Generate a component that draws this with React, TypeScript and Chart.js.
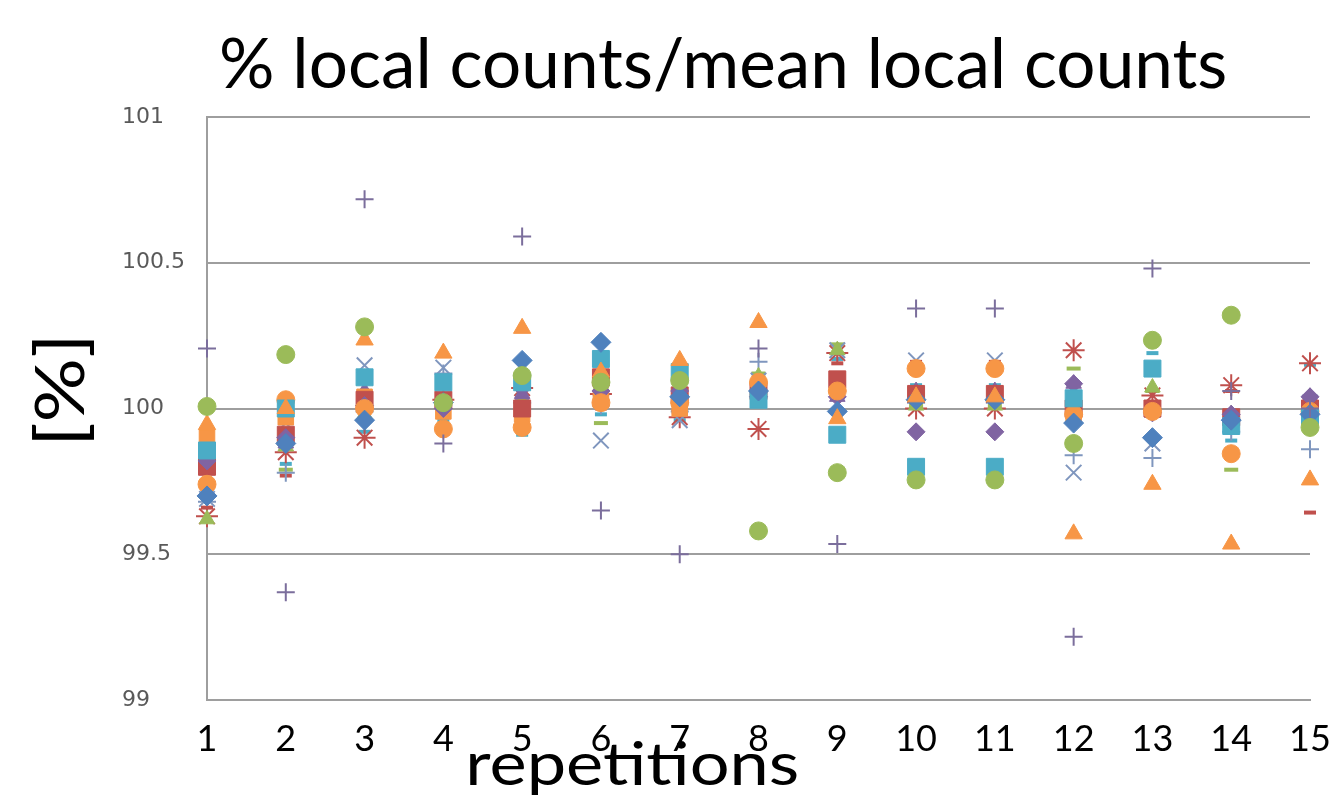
import React, { useEffect, useRef } from "react";
import { Chart, registerables } from "chart.js";

Chart.register(...registerables);

const TITLE = "% local counts/mean local counts";
const X_TITLE = "repetitions";
const Y_TITLE = "[%]";

const repetitions = [1, 2, 3, 4, 5, 6, 7, 8, 9, 10, 11, 12, 13, 14, 15];
const yMin = 99;
const yMax = 101;
const yStep = 0.5;

const blueDiamond = [99.70, 99.88, 99.96, 100.02, 100.165, 100.227, 100.04, 100.06, 99.99, 100.03, 100.03, 99.95, 99.90, 99.96, 99.98];
const redSquare = [99.80, 99.91, 100.03, 100.03, 100.0, 100.107, 100.045, 100.06, 100.10, 100.05, 100.05, 100.0, 100.0, 99.97, 100.0];
const orangeTriangle = [99.945, 100.0, 100.235, 100.19, 100.275, 100.125, 100.165, 100.295, 99.965, 100.04, 100.04, 99.57, 99.74, 99.535, 99.755];
const purpleDiamond = [99.82, 99.90, 100.01, 100.0, 100.07, 100.06, 100.06, 100.04, 100.04, 99.92, 99.92, 100.085, 99.985, 99.98, 100.04];
const cyanSquare = [99.856, 100.0, 100.107, 100.09, 100.09, 100.17, 100.125, 100.03, 99.91, 99.80, 99.80, 100.035, 100.137, 99.94, 99.97];
const greenCircle = [100.007, 100.185, 100.28, 100.02, 100.113, 100.09, 100.096, 99.58, 99.78, 99.755, 99.755, 99.88, 100.234, 100.32, 99.935];
const orangeCircle = [99.74, 100.03, 100.0, 99.93, 99.935, 100.02, 100.02, 100.09, 100.06, 100.137, 100.137, 99.98, 99.99, 99.845, 99.99];
const purplePlus = [100.206, 99.37, 100.718, 99.88, 100.59, 99.65, 99.50, 100.206, 99.535, 100.343, 100.343, 99.217, 100.48, 100.06, 100.0];
const blueX = [99.69, 99.95, 100.148, 100.14, 100.05, 99.89, 99.96, 100.096, 100.2, 100.165, 100.165, 99.78, 99.88, 99.94, 100.02];
const redAsterisk = [99.63, 99.85, 99.90, 100.03, 100.07, 100.05, 99.97, 99.93, 100.19, 100.0, 100.0, 100.2, 100.045, 100.08, 100.155];
const greenDash = [99.78, 99.79, 100.06, 100.02, 100.03, 99.95, 100.0, 100.12, 100.22, 100.01, 100.01, 100.137, 100.06, 99.79, 99.97];
const redDash = [99.66, 99.77, 100.02, 99.99, 100.01, 100.0, 100.03, 100.06, 100.155, 100.16, 100.16, 99.99, 100.01, 100.06, 99.643];
const cyanDash = [99.69, 99.81, 99.92, 99.96, 99.91, 99.98, 99.96, 100.04, 100.17, 100.08, 100.08, 99.96, 100.19, 99.89, 100.15];
const orangeSquare = [99.90, 99.97, 100.04, 99.99, 99.98, 100.03, 100.0, 100.06, 100.10, 100.05, 100.05, 99.98, 100.0, 99.96, 99.985];
const bluePlus = [99.68, 99.78, 99.99, 100.12, 100.02, 100.01, 99.99, 100.16, 100.19, 100.02, 100.02, 99.84, 99.83, 99.92, 99.86];
const purpleTriangle = [99.83, 99.88, 100.06, 100.03, 100.05, 100.06, 100.04, 100.08, 100.04, 100.06, 100.06, 100.085, 99.985, 99.98, 100.04];
const greenTriangle = [99.62, 99.87, 99.98, 100.01, 100.02, 100.08, 100.05, 100.11, 100.2, 100.01, 100.01, 100.0, 100.072, 99.98, 99.96];

const BLUE = "#4F81BD";
const RED = "#C0504D";
const GREEN = "#9BBB59";
const PURPLE = "#8064A2";
const CYAN = "#4BACC6";
const ORANGE = "#F79646";
const PLUS_PURPLE = "#7B6E9C";
const X_BLUE = "#7F96BE";
const GRID = "#9E9E9E";

type SeriesDef = {
  label: string;
  values: number[];
  style: string;
  color: string;
  radius: number;
  filled: boolean;
  lineWidth: number;
};

// index 0 is drawn last (on top) by Chart.js
const seriesDefs: SeriesDef[] = [
  { label: "purple plus", values: purplePlus, style: "cross", color: PLUS_PURPLE, radius: 9, filled: false, lineWidth: 2 },
  { label: "green circle", values: greenCircle, style: "circle", color: GREEN, radius: 9, filled: true, lineWidth: 1 },
  { label: "orange triangle", values: orangeTriangle, style: "triangle", color: ORANGE, radius: 10, filled: true, lineWidth: 1 },
  { label: "blue diamond", values: blueDiamond, style: "rectRot", color: BLUE, radius: 10, filled: true, lineWidth: 1 },
  { label: "cyan square", values: cyanSquare, style: "rect", color: CYAN, radius: 12, filled: true, lineWidth: 1 },
  { label: "orange circle", values: orangeCircle, style: "circle", color: ORANGE, radius: 9, filled: true, lineWidth: 1 },
  { label: "purple diamond", values: purpleDiamond, style: "rectRot", color: PURPLE, radius: 9, filled: true, lineWidth: 1 },
  { label: "red square", values: redSquare, style: "rect", color: RED, radius: 12, filled: true, lineWidth: 1 },
  { label: "orange square", values: orangeSquare, style: "rect", color: ORANGE, radius: 11, filled: true, lineWidth: 1 },
  { label: "purple triangle", values: purpleTriangle, style: "triangle", color: PURPLE, radius: 9, filled: true, lineWidth: 1 },
  { label: "green triangle", values: greenTriangle, style: "triangle", color: GREEN, radius: 9, filled: true, lineWidth: 1 },
  { label: "blue x", values: blueX, style: "crossRot", color: X_BLUE, radius: 11, filled: false, lineWidth: 2 },
  { label: "red asterisk", values: redAsterisk, style: "star", color: RED, radius: 11, filled: false, lineWidth: 2 },
  { label: "blue plus", values: bluePlus, style: "cross", color: X_BLUE, radius: 9, filled: false, lineWidth: 2 },
  { label: "green dash", values: greenDash, style: "line", color: GREEN, radius: 7, filled: false, lineWidth: 4 },
  { label: "red dash", values: redDash, style: "line", color: RED, radius: 6, filled: false, lineWidth: 4 },
  { label: "cyan dash", values: cyanDash, style: "line", color: CYAN, radius: 6, filled: false, lineWidth: 4 },
];

function drawFitted(
  ctx: CanvasRenderingContext2D,
  text: string,
  font: string,
  left: number,
  baseline: number,
  width: number
) {
  ctx.save();
  ctx.font = font;
  ctx.fillStyle = "#000000";
  ctx.textAlign = "left";
  ctx.textBaseline = "alphabetic";
  const m = ctx.measureText(text);
  const inkLeft = m.actualBoundingBoxLeft || 0;
  const inkW = (m.actualBoundingBoxRight || m.width) + inkLeft;
  ctx.translate(left, baseline);
  ctx.scale(width / inkW, 1);
  ctx.fillText(text, inkLeft, 0);
  ctx.restore();
}

const titlesPlugin = {
  id: "customTitles",
  afterDraw(chart: any) {
    const ctx: CanvasRenderingContext2D = chart.ctx;
    drawFitted(ctx, TITLE, "70px Lato", 222, 88, 1003);
    drawFitted(ctx, X_TITLE, "60px Lato", 470, 785, 327);
    ctx.save();
    ctx.translate(84, 440);
    ctx.rotate(-Math.PI / 2);
    drawFitted(ctx, Y_TITLE, "68px Lato", 0, 0, 100);
    ctx.restore();
  },
};

export default function App() {
  const canvasRef = useRef<HTMLCanvasElement | null>(null);

  useEffect(() => {
    const canvas = canvasRef.current;
    if (!canvas) return;
    const datasets = seriesDefs.map((s) => ({
      label: s.label,
      data: repetitions.map((r, i) => ({ x: r, y: s.values[i] })),
      pointStyle: s.style,
      pointRadius: s.radius,
      pointHoverRadius: s.radius,
      pointBackgroundColor: s.filled ? s.color : "rgba(0,0,0,0)",
      pointBorderColor: s.color,
      pointBorderWidth: s.lineWidth,
      showLine: false,
      clip: false as any,
    }));

    const chart = new Chart(canvas, {
      type: "scatter",
      data: { datasets },
      plugins: [titlesPlugin],
      options: {
        animation: false,
        responsive: false,
        layout: { padding: { left: 122, top: 117, right: 25, bottom: 0 } },
        plugins: {
          legend: { display: false },
          title: { display: false },
          tooltip: { enabled: false },
        },
        scales: {
          x: {
            type: "linear",
            min: 1,
            max: 15,
            ticks: {
              stepSize: 1,
              color: "#000000",
              font: { family: "Lato", size: 36 },
              padding: 18,
              maxRotation: 0,
              autoSkip: false,
            },
            grid: { display: false, drawTicks: false },
            border: { display: true, color: GRID, width: 2 },
            afterFit(scale: any) {
              scale.height = 96;
              scale.paddingLeft = 0;
              scale.paddingRight = 0;
            },
          },
          y: {
            type: "linear",
            min: yMin,
            max: yMax,
            ticks: {
              stepSize: yStep,
              color: "#595959",
              font: { family: "DejaVu Sans", size: 22 },
              crossAlign: "far",
              padding: 0,
              callback: (v: any) => String(Number(v)),
            },
            grid: { color: GRID, lineWidth: 2, drawTicks: false },
            border: { display: true, color: GRID, width: 2 },
            afterFit(scale: any) {
              scale.width = 85;
              scale.paddingTop = 0;
              scale.paddingBottom = 0;
            },
          },
        },
      },
    });
    return () => chart.destroy();
  }, []);

  return (
    <div style={{ position: "fixed", left: 0, top: 0, width: 1335, height: 796, background: "#ffffff" }}>
      <canvas ref={canvasRef} width={1335} height={796} style={{ display: "block" }} />
    </div>
  );
}
